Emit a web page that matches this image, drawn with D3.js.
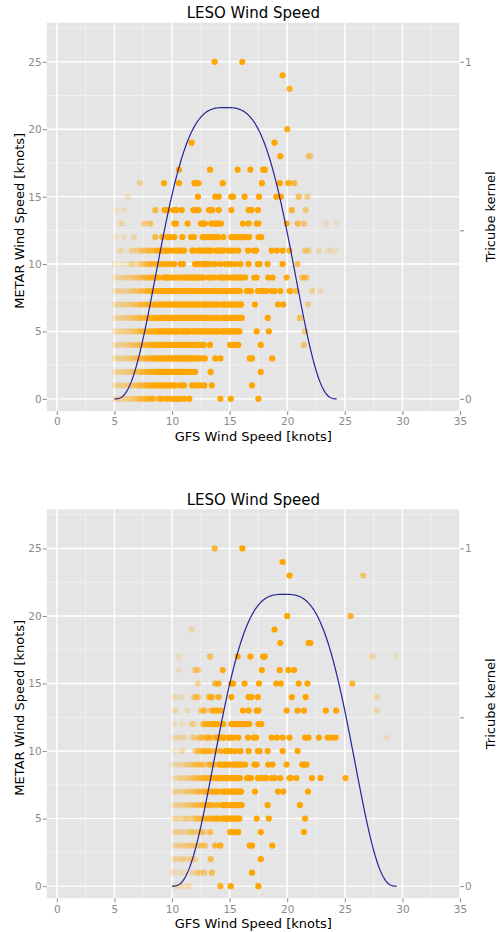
<!DOCTYPE html>
<html>
<head>
<meta charset="utf-8">
<script src="https://cdn.jsdelivr.net/npm/d3@7"></script>
<style>
  body { margin: 0; background: #fff; }
  svg { display: block; }
  text { font-family: "DejaVu Sans", sans-serif; }
</style>
</head>
<body>
<svg id="chart" width="497" height="932"></svg>
<script>
// METAR observed wind speed levels (knots), one entry per row of points
const metarKnots = [0, 1, 2, 3, 4, 5, 6, 7, 8, 9, 10, 11, 12, 13, 14, 15, 16, 17, 18, 19, 20, 21, 22, 23, 24, 25];

// GFS forecast wind speeds (knots) observed at each METAR level above
const gfsKnots = [
  // 0
  [5.02, 5.2, 5.35, 5.53, 5.7, 5.86, 6.05, 6.2, 6.37, 6.55, 6.71, 6.9, 7.05, 7.22, 7.4, 7.56, 7.75, 7.9, 8.08, 8.24, 8.42,
   8.9, 9.1, 9.5, 9.9, 10.2, 10.5, 10.7, 11.1, 11.5, 14.2, 15.1, 17.5],
  // 1
  [5.02, 5.2, 5.35, 5.53, 5.7, 5.86, 6.05, 6.2, 6.37, 6.55, 6.71, 6.9, 7.05, 7.22, 7.4, 7.56, 7.75, 7.9, 8.08, 8.24, 8.42, 8.6, 8.75, 8.93, 9.1,
   9.3, 9.5, 9.75, 10.0, 10.25, 10.7, 11.05, 11.75, 12.15, 12.4, 12.8, 13.45, 16.95],
  // 2
  [5.02, 5.2, 5.35, 5.53, 5.7, 5.86, 6.05, 6.2, 6.37, 6.55, 6.71, 6.9, 7.05, 7.22, 7.4, 7.56, 7.75, 7.9, 8.08, 8.24, 8.42, 8.6, 8.75, 8.93, 9.1,
   9.26, 9.45, 9.6, 9.78, 9.95, 10.12, 10.3, 10.45,
   10.7, 10.85, 11.0, 11.25, 11.55, 11.75, 12.0, 13.35, 17.7],
  // 3
  [5.02, 5.2, 5.35, 5.53, 5.7, 5.86, 6.05, 6.2, 6.37, 6.55, 6.71, 6.9, 7.05, 7.22, 7.4, 7.56, 7.75, 7.9, 8.08, 8.24, 8.42, 8.6, 8.75, 8.93, 9.1,
   9.26, 9.45, 9.6, 9.78, 9.95, 10.12, 10.3, 10.45, 10.63, 10.8, 10.97, 11.15, 11.3, 11.48, 11.62,
   11.85, 12.05, 12.3, 12.55, 12.85, 13.75, 14.2, 16.75, 16.95, 18.7],
  // 4
  [5.02, 5.2, 5.35, 5.53, 5.7, 5.86, 6.05, 6.2, 6.37, 6.55, 6.71, 6.9, 7.05, 7.22, 7.4, 7.56, 7.75, 7.9, 8.08, 8.24, 8.42, 8.6, 8.75, 8.93, 9.1,
   9.26, 9.45, 9.6, 9.78, 9.95, 10.12, 10.3, 10.45, 10.63, 10.8, 10.97,
   11.3, 11.45, 11.6, 11.8, 11.95, 12.3, 12.5, 12.75, 13.3, 15.05, 15.3, 15.5, 15.75, 17.7, 21.45],
  // 5
  [5.02, 5.2, 5.35, 5.53, 5.7, 5.86, 6.05, 6.2, 6.37, 6.55, 6.71, 6.9, 7.05, 7.22, 7.4, 7.56, 7.75, 7.9, 8.08, 8.24, 8.42, 8.6, 8.75, 8.93, 9.1,
   9.26, 9.45, 9.6, 9.78, 9.95, 10.12, 10.3, 10.45, 10.63,
   10.9, 11.05, 11.2, 11.35, 11.5,
   11.82, 12.0, 12.15, 12.33, 12.5, 12.68, 12.85, 13.0, 13.18, 13.35, 13.52, 13.72, 13.88, 14.02,
   14.3, 14.45, 14.6, 14.75, 14.9, 15.05, 15.2, 15.35, 15.5, 15.65, 15.85, 17.35, 18.4, 21.55],
  // 6
  [5.02, 5.2, 5.35, 5.53, 5.7, 5.86, 6.05, 6.2, 6.37, 6.55, 6.71, 6.9, 7.05, 7.22, 7.4, 7.56, 7.75, 7.9, 8.08, 8.24, 8.42, 8.6, 8.75, 8.93, 9.1,
   9.26, 9.45, 9.6, 9.78, 9.95, 10.12, 10.3, 10.45, 10.63, 10.8, 10.97, 11.15, 11.3, 11.48, 11.65, 11.82, 12.0, 12.15, 12.33, 12.5, 12.68,
   12.85, 13.0, 13.18, 13.35, 13.52,
   13.9, 14.3, 14.45, 14.6, 14.75, 15.05, 15.3, 15.45, 15.6, 15.75, 15.9, 16.05, 18.3, 21.1],
  // 7
  [5.02, 5.2, 5.35, 5.53, 5.7, 5.86, 6.05, 6.2, 6.37, 6.55, 6.71, 6.9, 7.05, 7.22, 7.4, 7.56, 7.75, 7.9, 8.08, 8.24, 8.42, 8.6, 8.75, 8.93, 9.1,
   9.26, 9.45, 9.6, 9.78, 9.95, 10.12, 10.3, 10.45, 10.63, 10.8, 10.97, 11.15, 11.3, 11.48, 11.65, 11.82, 12.0, 12.15, 12.33, 12.5, 12.68,
   12.85, 13.0, 13.18, 13.35, 13.52, 13.7, 13.86, 14.03,
   14.37, 14.55, 14.7, 14.88, 15.05, 15.22, 15.4, 15.55, 15.73, 15.9, 16.0, 17.2, 19.2, 19.65, 21.8],
  // 8
  [5.05, 5.2, 5.38, 5.55, 5.75, 5.9, 6.18, 6.35, 6.55, 6.72, 6.9, 7.1, 7.3, 7.48, 7.7, 7.86, 8.02, 8.18, 8.35, 8.5, 8.66, 8.82, 9.0, 9.15,
   9.32, 9.5, 9.66, 9.82, 9.98, 10.15, 10.42, 10.58, 10.75, 10.9, 11.1, 11.3, 11.48, 11.65, 11.82, 12.0, 12.15, 12.3, 12.45, 12.6, 12.75,
   12.92, 13.08, 13.25, 13.42, 13.58, 13.75, 13.92, 14.08, 14.25, 14.42, 14.58, 14.75, 14.92, 15.08, 15.25, 15.42, 15.58, 15.75, 15.9,
   16.5, 16.65, 16.85, 17.45, 17.62, 17.78, 17.95, 18.1, 18.2, 18.65, 18.92, 19.4, 20.2, 20.3, 20.8, 22.15, 22.9, 25.05],
  // 9
  [5.05, 5.25, 5.45, 5.62, 5.8, 5.95, 6.1, 6.3, 6.5, 6.65, 6.85, 7.05, 7.25, 7.45, 7.62, 7.8, 8.0, 8.15, 8.35, 8.5, 8.7, 8.9, 9.3, 9.45,
   9.62, 9.8, 10.0, 10.3, 10.5, 10.7, 11.0, 11.15, 11.32, 11.5, 11.68, 11.85, 12.0, 12.18, 12.35, 12.52, 12.7, 13.15, 13.32, 13.62,
   14.05, 14.22, 14.4, 14.57, 14.75, 15.0, 15.35, 15.52, 15.7, 15.88, 16.05, 16.35, 17.15, 17.35, 18.35, 18.72, 19.95, 21.3, 21.48, 21.68],
  // 10
  [5.05, 5.7, 6.25, 6.5, 6.75, 7.2, 7.5, 7.75, 7.95, 8.15, 8.35, 8.65, 8.9, 9.2, 9.55, 9.95, 10.2, 10.75, 10.95, 12.0, 12.15, 12.3,
   12.45, 12.6, 12.75, 12.9, 13.05, 13.2, 13.35, 13.75, 14.2, 14.65, 14.85, 15.1, 15.5, 15.95, 16.65, 17.45, 17.6, 18.3, 19.6, 20.9],
  // 11
  [5.4, 5.65, 6.35, 6.6, 6.9, 7.2, 7.45, 7.7, 7.95, 8.2, 8.55, 8.75, 8.95, 9.15, 9.35, 9.55, 9.8, 10.1, 10.4, 10.55, 10.85, 11.05,
   11.75, 11.95, 12.3, 12.45, 12.6, 12.9, 13.05, 13.2, 13.4, 13.8, 13.95, 14.1, 14.3, 14.5, 14.9, 15.1, 15.35, 15.75, 16.6, 17.1,
   17.3, 18.65, 19.1, 19.6, 20.2, 21.55, 21.85, 22.75, 23.5, 23.8, 24.2, 28.6],
  // 12
  [5.1, 5.8, 6.7, 8.55, 9.15, 9.6, 9.85, 10.2, 10.9, 11.65, 11.9, 12.65, 12.8, 12.95, 13.1, 13.25, 13.4, 13.55, 13.7, 13.85, 14.0,
   14.45, 15.15, 15.3, 15.5, 15.65, 15.8, 15.95, 16.1, 16.3, 16.5, 16.7, 17.5, 17.75],
  // 13
  [5.5, 5.7, 7.6, 8.1, 10.2, 10.35, 11.35, 12.5, 12.7, 12.85, 13.4, 13.6, 13.8, 14.0, 14.25, 16.15, 16.65, 17.35, 17.5, 19.95,
   20.9, 21.45, 23.35, 24.25, 27.8],
  // 14
  [5.2, 5.8, 8.55, 9.35, 9.5, 9.65, 10.15, 10.4, 10.85, 11.85, 12.0, 12.15, 12.3, 13.2, 13.35, 13.5, 14.05, 15.15, 16.65, 16.8,
   16.9, 17.45, 20.4, 21.6, 27.8],
  // 15
  [6.15, 12.25, 13.75, 14.05, 15.15, 15.3, 16.3, 17.55, 19.05, 19.45, 21.0, 21.75, 25.65],
  // 16
  [7.2, 9.3, 10.6, 11.95, 12.1, 12.3, 14.4, 17.8, 19.35, 20.1, 20.6],
  // 17
  [10.6, 13.3, 15.7, 16.8, 17.9, 18.05, 27.4, 29.45],
  // 18
  [19.4, 21.85, 22.0],
  // 19
  [11.7, 18.9],
  // 20
  [20.0, 25.5],
  // 21
  [],
  // 22
  [],
  // 23
  [20.2, 26.6],
  // 24
  [19.6],
  // 25
  [13.7, 16.1]
];

// Local-regression windows: kernel centre and half-width for each panel (knots)
const kernelCenters = [14.65, 19.75];
const kernelHalfWidths = [9.65, 9.75];

const panelTitles = ["LESO Wind Speed", "LESO Wind Speed"];
const xTicks = [0, 5, 10, 15, 20, 25, 30, 35];
const yTicks = [0, 5, 10, 15, 20, 25];
const kernelTicks = [0, 0.5, 1];
const kernelTickLabels = ["0", "", "1"];

const points = [];
metarKnots.forEach((m, i) => gfsKnots[i].forEach(g => points.push({ gfs: g, metar: m })));

// Normalised tricube kernel: K(u) = 70/81 (1 - |u|^3)^3 on |u| <= 1
const tricube = u => {
  const a = 1 - Math.pow(Math.abs(u), 3);
  return a > 0 ? a * a * a : 0;
};
const tricubeNorm = 70 / 81;

const svg = d3.select("#chart");
const left = 46.7, right = 460;
const panels = [{ top: 22.7, bottom: 411 }, { top: 509.3, bottom: 898.3 }];
const xDomain = [-0.88, 35], yDomain = [-0.9, 27.9];
const tickColor = "#8a8a8a";

panels.forEach((p, pi) => {
  const x = d3.scaleLinear().domain(xDomain).range([left, right]);
  const y = d3.scaleLinear().domain(yDomain).range([p.bottom, p.top]);
  const yk = d3.scaleLinear().domain([yDomain[0] / 25, yDomain[1] / 25]).range([p.bottom, p.top]);
  const g = svg.append("g");

  g.append("rect")
    .attr("x", left).attr("y", p.top)
    .attr("width", right - left).attr("height", p.bottom - p.top)
    .attr("fill", "#E5E5E5");

  // minor grid
  const xMinor = xTicks.slice(0, -1).map(t => t + 2.5);
  const yMinor = yTicks.map(t => t + 2.5);
  g.selectAll(".xminor").data(xMinor).join("line")
    .attr("x1", d => x(d)).attr("x2", d => x(d))
    .attr("y1", p.top).attr("y2", p.bottom)
    .attr("stroke", "#F2F2F2").attr("stroke-width", 0.8);
  g.selectAll(".yminor").data(yMinor).join("line")
    .attr("y1", d => y(d)).attr("y2", d => y(d))
    .attr("x1", left).attr("x2", right)
    .attr("stroke", "#F2F2F2").attr("stroke-width", 0.8);

  // major grid
  g.selectAll(".xmajor").data(xTicks).join("line")
    .attr("x1", d => x(d)).attr("x2", d => x(d))
    .attr("y1", p.top).attr("y2", p.bottom)
    .attr("stroke", "#FFFFFF").attr("stroke-width", 1.4);
  g.selectAll(".ymajor").data(yTicks).join("line")
    .attr("y1", d => y(d)).attr("y2", d => y(d))
    .attr("x1", left).attr("x2", right)
    .attr("stroke", "#FFFFFF").attr("stroke-width", 1.4);

  // points inside the kernel window, faded by kernel weight
  const c = kernelCenters[pi], h = kernelHalfWidths[pi];
  const inWindow = points.filter(d => Math.abs(d.gfs - c) <= h);
  g.append("g").selectAll("circle").data(inWindow).join("circle")
    .attr("cx", d => x(d.gfs))
    .attr("cy", d => y(d.metar))
    .attr("r", 3.1)
    .attr("fill", "#FFA500")
    .attr("fill-opacity", d => Math.min(1, 0.15 + 1.35 * tricube((d.gfs - c) / h)));

  // tricube kernel curve on the right-hand axis
  const curve = d3.range(0, 201).map(i => {
    const gx = c - h + (2 * h) * i / 200;
    return [gx, tricubeNorm * tricube((gx - c) / h)];
  });
  g.append("path")
    .datum(curve)
    .attr("d", d3.line().x(d => x(d[0])).y(d => yk(d[1])))
    .attr("fill", "none")
    .attr("stroke", "#25259a")
    .attr("stroke-width", 1.2);

  // axes
  const axisBottom = d3.axisBottom(x).tickValues(xTicks).tickSize(4).tickPadding(3);
  const axisLeft = d3.axisLeft(y).tickValues(yTicks).tickSize(4).tickPadding(1);
  const axisRight = d3.axisRight(yk).tickValues(kernelTicks).tickSize(4).tickPadding(1)
    .tickFormat((d, i) => kernelTickLabels[i]);

  const styleAxis = sel => {
    sel.select(".domain").remove();
    sel.selectAll(".tick line").attr("stroke", tickColor);
    sel.selectAll(".tick text").attr("fill", tickColor)
      .style("font-family", "'DejaVu Sans', sans-serif").style("font-size", "10.5px");
  };
  g.append("g").attr("transform", `translate(0,${p.bottom})`).call(axisBottom).call(styleAxis);
  g.append("g").attr("transform", `translate(${left},0)`).call(axisLeft).call(styleAxis);
  g.append("g").attr("transform", `translate(${right},0)`).call(axisRight).call(styleAxis);

  // titles and labels
  const midX = (left + right) / 2, midY = (p.top + p.bottom) / 2;
  g.append("text")
    .attr("x", midX).attr("y", p.top - 4.5)
    .attr("text-anchor", "middle").attr("font-size", 15).attr("fill", "#000")
    .text(panelTitles[pi]);
  g.append("text")
    .attr("x", midX).attr("y", p.bottom + 30)
    .attr("text-anchor", "middle").attr("font-size", 13).attr("fill", "#000")
    .text("GFS Wind Speed [knots]");
  g.append("text")
    .attr("transform", `translate(24,${midY + 4}) rotate(-90)`)
    .attr("text-anchor", "middle").attr("font-size", 13).attr("fill", "#000")
    .text("METAR Wind Speed [knots]");
  g.append("text")
    .attr("transform", `translate(495,${midY}) rotate(-90)`)
    .attr("text-anchor", "middle").attr("font-size", 13).attr("fill", "#000")
    .text("Tricube kernel");
});
</script>
</body>
</html>
